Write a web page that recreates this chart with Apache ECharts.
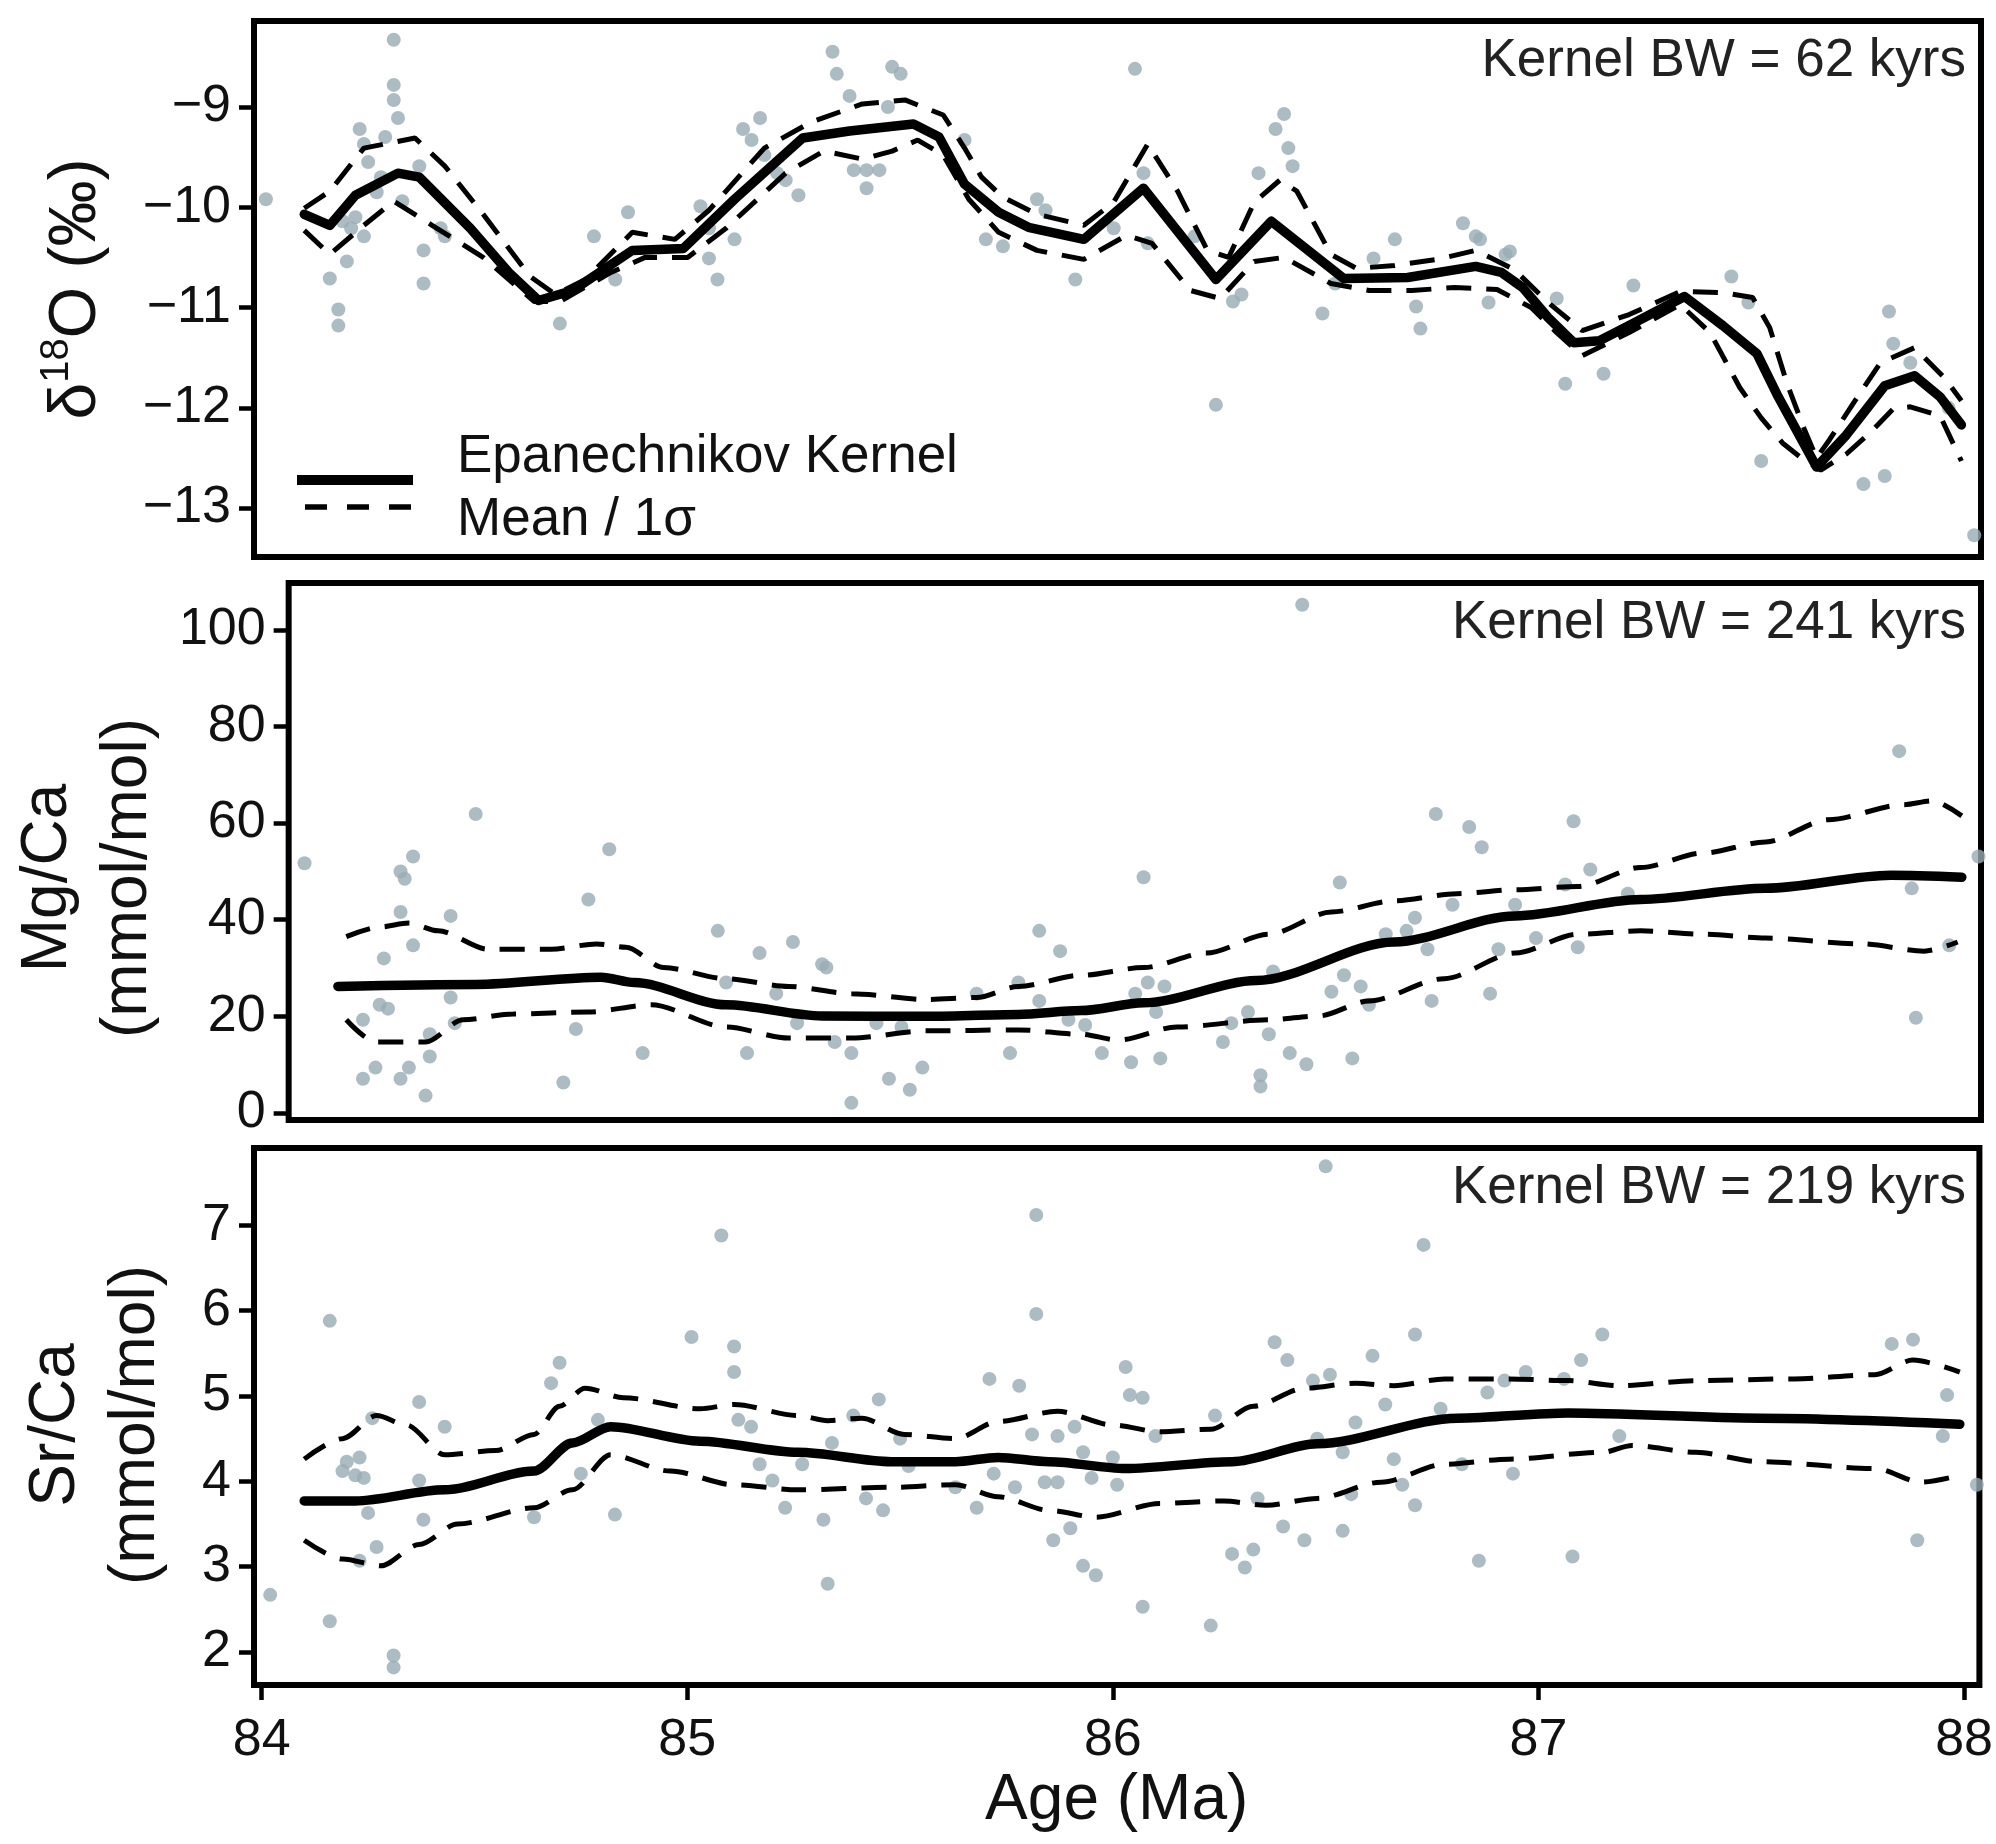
<!DOCTYPE html>
<html>
<head>
<meta charset="utf-8">
<script src="https://cdn.jsdelivr.net/npm/echarts@6/dist/echarts.min.js"></script>
<style>
  html, body { margin: 0; padding: 0; background: #ffffff; }
  #chart { width: 1996px; height: 1844px; }
</style>
</head>
<body>
<div id="chart"></div>
<script>
// ---- tick positions ----
const ageTicks = [84, 85, 86, 87, 88];
const d18oTicks = [-13, -12, -11, -10, -9];
const mgcaTicks = [0, 20, 40, 60, 80, 100];
const srcaTicks = [2, 3, 4, 5, 6, 7];

// ---- kernel bandwidths ----
const bandwidths = ['Kernel BW = 62 kyrs', 'Kernel BW = 241 kyrs', 'Kernel BW = 219 kyrs'];

// ---- δ18O (‰): measurements [age Ma, value] ----
const d18oPoints = [
  [84.01,-9.92],[84.16,-10.71],[84.18,-11.02],[84.18,-11.18],[84.20,-10.54],[84.19,-10.14],[84.21,-10.21],
  [84.22,-10.10],[84.24,-10.29],[84.23,-9.22],[84.24,-9.37],[84.25,-9.55],[84.27,-9.85],[84.28,-9.70],
  [84.29,-9.30],[84.31,-8.93],[84.31,-8.78],[84.31,-8.33],[84.32,-9.11],[84.33,-9.94],[84.37,-9.59],
  [84.38,-10.43],[84.38,-10.76],[84.42,-10.21],[84.43,-10.29],[84.70,-11.16],[84.78,-10.29],[84.83,-10.72],
  [84.86,-10.05],[85.03,-9.99],[85.05,-10.21],[85.05,-10.51],[85.07,-10.72],[85.11,-10.32],[85.13,-9.22],
  [85.15,-9.33],[85.17,-9.11],[85.18,-9.48],[85.21,-9.66],[85.23,-9.73],[85.26,-9.88],[85.34,-8.45],
  [85.35,-8.67],[85.38,-8.89],[85.39,-9.63],[85.42,-9.63],[85.42,-9.81],[85.45,-9.63],[85.47,-9.00],
  [85.48,-8.60],[85.50,-8.67],[85.65,-9.33],[85.70,-10.32],[85.74,-10.39],[85.82,-9.92],[85.84,-10.03],
  [85.91,-10.72],[86.00,-10.21],[86.05,-8.62],[86.07,-9.66],[86.08,-10.36],[86.19,-10.29],[86.24,-11.97],
  [86.28,-10.94],[86.30,-10.87],[86.34,-9.66],[86.38,-9.22],[86.40,-9.07],[86.41,-9.41],[86.42,-9.59],
  [86.49,-11.06],[86.52,-10.76],[86.61,-10.51],[86.66,-10.32],[86.71,-10.99],[86.72,-11.21],[86.82,-10.16],
  [86.85,-10.29],[86.86,-10.32],[86.88,-10.95],[86.92,-10.47],[86.93,-10.44],[87.04,-10.91],[87.06,-11.76],
  [87.15,-11.66],[87.22,-10.78],[87.45,-10.69],[87.49,-10.95],[87.52,-12.53],[87.76,-12.76],[87.81,-12.68],
  [87.82,-11.04],[87.83,-11.36],[87.87,-11.55],[87.96,-12.00],[88.02,-13.27]
];
const d18oKernel = [
  [84.10,-10.07],[84.16,-10.18],[84.22,-9.88],[84.32,-9.66],[84.37,-9.70],[84.49,-10.21],[84.58,-10.65],
  [84.65,-10.93],[84.73,-10.83],[84.87,-10.43],[84.99,-10.41],[85.11,-9.92],[85.27,-9.31],[85.38,-9.24],
  [85.53,-9.17],[85.59,-9.30],[85.65,-9.77],[85.73,-10.05],[85.80,-10.20],[85.93,-10.32],[86.07,-9.81],
  [86.24,-10.72],[86.37,-10.14],[86.54,-10.71],[86.69,-10.70],[86.85,-10.59],[86.91,-10.65],[86.96,-10.80],
  [87.02,-11.10],[87.08,-11.35],[87.14,-11.33],[87.21,-11.18],[87.34,-10.89],[87.43,-11.18],[87.51,-11.46],
  [87.56,-11.89],[87.65,-12.59],[87.72,-12.27],[87.81,-11.78],[87.88,-11.68],[87.94,-11.89],[87.99,-12.17]
];
const d18oUpper = [
  [84.10,-10.01],[84.16,-9.84],[84.24,-9.41],[84.36,-9.31],[84.43,-9.59],[84.52,-10.07],[84.63,-10.69],
  [84.69,-10.87],[84.76,-10.72],[84.87,-10.25],[84.97,-10.32],[85.05,-10.03],[85.18,-9.41],[85.29,-9.15],
  [85.41,-8.97],[85.51,-8.93],[85.60,-9.08],[85.65,-9.41],[85.69,-9.70],[85.74,-9.90],[85.82,-10.07],
  [85.93,-10.18],[86.00,-9.95],[86.08,-9.37],[86.15,-9.84],[86.22,-10.43],[86.27,-10.50],[86.33,-9.95],
  [86.39,-9.73],[86.43,-9.84],[86.51,-10.47],[86.57,-10.61],[86.66,-10.58],[86.76,-10.52],[86.85,-10.43],
  [86.94,-10.62],[87.02,-10.95],[87.10,-11.23],[87.21,-11.07],[87.33,-10.84],[87.43,-10.85],[87.50,-10.90],
  [87.54,-11.20],[87.58,-11.75],[87.62,-12.20],[87.65,-12.50],[87.68,-12.32],[87.74,-11.93],[87.80,-11.55],
  [87.88,-11.40],[87.95,-11.70],[87.99,-11.93]
];
const d18oLower = [
  [84.10,-10.23],[84.16,-10.47],[84.24,-10.18],[84.31,-9.94],[84.40,-10.18],[84.52,-10.50],[84.64,-10.94],
  [84.70,-10.94],[84.82,-10.65],[84.90,-10.50],[85.00,-10.50],[85.09,-10.21],[85.23,-9.66],[85.32,-9.44],
  [85.41,-9.52],[85.48,-9.44],[85.54,-9.33],[85.60,-9.48],[85.66,-9.92],[85.73,-10.25],[85.82,-10.43],
  [85.93,-10.52],[86.03,-10.28],[86.09,-10.36],[86.18,-10.83],[86.25,-10.91],[86.33,-10.54],[86.40,-10.50],
  [86.51,-10.76],[86.60,-10.83],[86.70,-10.83],[86.80,-10.80],[86.90,-10.82],[86.98,-11.00],[87.04,-11.25],
  [87.10,-11.48],[87.21,-11.25],[87.33,-10.97],[87.40,-11.25],[87.47,-11.80],[87.52,-12.10],[87.57,-12.35],
  [87.62,-12.52],[87.66,-12.62],[87.72,-12.46],[87.78,-12.23],[87.83,-12.01],[87.87,-11.99],[87.94,-12.08],
  [87.99,-12.53]
];

// ---- Mg/Ca (mmol/mol) ----
const mgcaPoints = [
  [84.02,51.7],[84.16,19.3],[84.16,7.1],[84.19,9.4],[84.20,22.4],[84.21,32.0],[84.22,21.6],[84.25,41.6],
  [84.25,50.0],[84.26,48.5],[84.27,9.4],[84.28,34.7],[84.28,53.1],[84.25,7.1],[84.31,3.6],[84.32,11.7],
  [84.32,16.3],[84.37,40.8],[84.37,23.9],[84.38,18.6],[84.43,61.9],[84.64,6.3],[84.67,17.4],[84.70,44.2],
  [84.75,54.6],[84.83,12.4],[85.01,37.7],[85.03,27.0],[85.08,12.4],[85.11,33.1],[85.15,24.7],[85.19,35.4],
  [85.20,18.6],[85.26,30.8],[85.27,30.1],[85.29,14.7],[85.33,12.4],[85.33,2.1],[85.39,18.6],[85.42,7.1],
  [85.45,17.8],[85.47,4.8],[85.50,9.4],[85.63,24.7],[85.71,12.4],[85.73,27.0],[85.78,37.7],[85.83,33.5],
  [85.78,23.2],[85.85,19.3],[85.89,18.2],[85.93,12.4],[86.00,10.5],[86.03,48.8],[86.01,24.7],[86.04,27.0],
  [86.06,20.9],[86.07,11.3],[86.08,26.2],[86.22,14.7],[86.24,18.6],[86.28,20.9],[86.31,7.8],[86.31,5.5],
  [86.33,16.3],[86.34,29.3],[86.38,12.4],[86.41,105.2],[86.42,10.1],[86.48,25.1],[86.50,47.7],[86.51,28.5],
  [86.53,11.3],[86.55,26.2],[86.57,22.4],[86.61,37.0],[86.66,37.7],[86.68,40.4],[86.71,33.9],[86.72,23.2],
  [86.73,61.9],[86.77,43.1],[86.81,59.2],[86.84,55.0],[86.86,24.7],[86.88,33.9],[86.92,43.1],[86.97,36.2],
  [87.04,47.3],[87.06,60.4],[87.07,34.3],[87.10,50.4],[87.19,45.4],[87.84,74.9],[87.87,46.5],[87.88,19.7],
  [87.96,34.7],[88.03,53.1]
];
const mgcaKernel = [
  [84.10,26.2],[84.43,26.6],[84.73,28.1],[84.81,27.0],[85.03,22.4],[85.26,20.1],[85.50,20.0],[85.73,20.4],
  [85.88,21.2],[86.03,22.8],[86.30,27.4],[86.63,35.4],[86.92,40.8],[87.22,44.2],[87.52,46.5],[87.82,49.2],
  [87.99,48.8]
];
const mgcaUpper = [
  [84.12,36.5],[84.20,38.5],[84.27,39.3],[84.34,37.7],[84.46,33.9],[84.61,33.9],[84.72,35.0],[84.79,34.3],
  [84.88,30.1],[85.03,27.8],[85.18,26.2],[85.33,24.7],[85.51,23.5],[85.63,23.9],[85.73,26.2],[85.88,28.5],
  [86.03,30.1],[86.18,33.1],[86.33,37.0],[86.48,41.6],[86.63,43.9],[86.78,45.4],[86.92,46.2],[87.07,46.9],
  [87.22,50.8],[87.37,53.8],[87.52,56.1],[87.67,60.7],[87.85,63.8],[87.92,64.6],[87.99,61.5]
];
const mgcaLower = [
  [84.12,19.3],[84.19,14.7],[84.31,14.7],[84.40,19.3],[84.52,20.5],[84.70,20.9],[84.85,22.4],[85.03,17.8],
  [85.18,15.5],[85.33,15.5],[85.51,17.0],[85.73,17.2],[85.88,16.3],[85.97,15.1],[86.11,17.8],[86.33,19.3],
  [86.45,20.1],[86.57,23.2],[86.75,27.8],[86.92,33.1],[87.07,37.0],[87.22,37.7],[87.37,37.0],[87.52,36.2],
  [87.75,35.0],[87.90,33.5],[87.98,35.4]
];

// ---- Sr/Ca (mmol/mol) ----
const srcaPoints = [
  [84.02,2.67],[84.16,5.88],[84.16,2.36],[84.19,4.12],[84.20,4.23],[84.22,4.07],[84.23,4.28],[84.24,4.04],
  [84.25,3.63],[84.23,3.07],[84.27,3.23],[84.26,4.74],[84.31,1.96],[84.31,1.82],[84.37,4.93],[84.37,4.01],
  [84.38,3.55],[84.43,4.64],[84.64,3.58],[84.68,5.15],[84.70,5.39],[84.75,4.09],[84.79,4.72],[84.83,3.61],
  [85.01,5.69],[85.08,6.88],[85.11,5.58],[85.11,5.28],[85.12,4.72],[85.15,4.64],[85.17,4.20],[85.20,4.01],
  [85.23,3.69],[85.27,4.20],[85.32,3.55],[85.33,2.80],[85.34,4.45],[85.39,4.77],[85.42,3.80],[85.46,3.66],
  [85.45,4.96],[85.50,4.50],[85.52,4.18],[85.63,3.93],[85.68,3.69],[85.71,5.20],[85.72,4.09],[85.78,5.12],
  [85.77,3.93],[85.81,4.55],[85.82,7.12],[85.82,5.96],[85.84,3.99],[85.86,3.31],[85.87,4.53],[85.87,3.99],
  [85.90,3.45],[85.91,4.64],[85.93,4.34],[85.93,3.01],[85.95,4.04],[85.96,2.90],[86.00,4.28],[86.01,3.96],
  [86.03,5.34],[86.04,5.01],[86.07,4.98],[86.07,2.53],[86.10,4.53],[86.23,2.31],[86.24,4.77],[86.28,3.15],
  [86.31,2.99],[86.33,3.20],[86.34,3.80],[86.38,5.63],[86.40,3.47],[86.41,5.42],[86.45,3.31],[86.47,5.18],
  [86.48,4.50],[86.50,7.69],[86.51,5.25],[86.54,4.34],[86.54,3.42],[86.56,3.85],[86.57,4.69],[86.61,5.47],
  [86.64,4.90],[86.66,4.26],[86.68,3.96],[86.71,3.72],[86.71,5.72],[86.73,6.77],[86.77,4.85],[86.82,4.20],
  [86.86,3.07],[86.88,5.04],[86.92,5.18],[86.94,4.09],[86.97,5.28],[87.06,5.20],[87.08,3.12],[87.10,5.42],
  [87.15,5.72],[87.19,4.53],[87.83,5.61],[87.88,5.66],[87.89,3.31],[87.95,4.53],[87.96,5.01],[88.03,3.96]
];
const srcaKernel = [
  [84.10,3.77],[84.22,3.77],[84.43,3.90],[84.64,4.12],[84.73,4.45],[84.82,4.64],[85.03,4.47],[85.26,4.34],
  [85.48,4.23],[85.63,4.23],[85.73,4.28],[85.85,4.23],[86.03,4.15],[86.28,4.23],[86.48,4.44],[86.81,4.74],
  [87.07,4.80],[87.52,4.74],[87.99,4.67]
];
const srcaUpper = [
  [84.10,4.26],[84.19,4.50],[84.27,4.77],[84.34,4.66],[84.43,4.31],[84.55,4.36],[84.64,4.55],[84.70,4.88],
  [84.76,5.09],[84.85,4.98],[85.03,4.85],[85.11,4.90],[85.26,4.77],[85.33,4.71],[85.41,4.74],[85.51,4.55],
  [85.63,4.50],[85.73,4.70],[85.87,4.82],[86.00,4.66],[86.11,4.58],[86.23,4.61],[86.33,4.88],[86.45,5.09],
  [86.57,5.15],[86.66,5.12],[86.78,5.20],[86.93,5.20],[87.07,5.18],[87.19,5.12],[87.37,5.18],[87.60,5.20],
  [87.79,5.25],[87.88,5.42],[87.99,5.28]
];
const srcaLower = [
  [84.10,3.31],[84.19,3.09],[84.28,3.01],[84.37,3.26],[84.46,3.50],[84.64,3.69],[84.73,3.90],[84.82,4.31],
  [84.96,4.12],[85.11,3.96],[85.26,3.90],[85.48,3.93],[85.63,3.96],[85.73,3.82],[85.85,3.66],[85.96,3.58],
  [86.11,3.74],[86.26,3.77],[86.36,3.72],[86.48,3.80],[86.63,3.99],[86.78,4.20],[86.93,4.26],[87.15,4.34],
  [87.22,4.42],[87.37,4.34],[87.52,4.23],[87.79,4.15],[87.90,3.99],[87.99,4.07]
];

// ---- drawing ----
const FONT = '"Liberation Sans", Arial, Helvetica, sans-serif';
const INK = '#111111';
const DOT = '#98abb4';

const panels = [
  { top: 21,   height: 536, min: -13.487, max: -8.143, ticks: d18oTicks,
    name: '{a|δ}{s|18}{a|O (‰)}', nameGap: 137, pad: [0, 0, 0, 0] },
  { top: 583,  height: 537, min: -1.45, max: 109.7, ticks: mgcaTicks,
    name: 'Mg/Ca\n(mmol/mol)', nameGap: 100, pad: [0, 53, 0, 0] },
  { top: 1148, height: 537, min: 1.614, max: 7.905, ticks: srcaTicks,
    name: 'Sr/Ca\n(mmol/mol)', nameGap: 78, pad: [0, 17, 0, 0] }
];

const grids = panels.map(p => ({
  left: 254, right: 15, top: p.top, height: p.height,
  show: true, borderColor: '#000', borderWidth: 6, backgroundColor: 'rgba(0,0,0,0)'
}));

const xAxes = panels.map((p, i) => ({
  type: 'value', gridIndex: i, min: 83.982, max: 88.036,
  show: i === 2,
  axisLine: { show: false },
  splitLine: { show: false },
  axisTick: { show: true, customValues: ageTicks, length: 15, lineStyle: { color: '#000', width: 4.5 } },
  axisLabel: { show: true, customValues: ageTicks, margin: 30, fontSize: 52, fontFamily: FONT, color: INK },
  name: i === 2 ? 'Age (Ma)' : '',
  nameLocation: 'middle', nameGap: 84,
  nameTextStyle: { fontSize: 64, fontFamily: FONT, color: INK }
}));

const minus = v => String(v).replace('-', '\u2212');

const yAxes = panels.map((p, i) => ({
  type: 'value', gridIndex: i, min: p.min, max: p.max,
  axisLine: { show: false },
  splitLine: { show: false },
  axisTick: { show: true, customValues: p.ticks, length: 15, lineStyle: { color: '#000', width: 4.5 } },
  axisLabel: { show: true, customValues: p.ticks, margin: 23, fontSize: 52, fontFamily: FONT, color: INK,
               formatter: minus },
  name: p.name, nameLocation: 'middle', nameRotate: 90, nameGap: p.nameGap,
  nameTextStyle: {
    fontSize: 64, fontFamily: FONT, color: INK, lineHeight: 80, padding: p.pad, align: 'center',
    rich: {
      a: { fontSize: 66, fontFamily: FONT, color: INK },
      s: { fontSize: 40, fontFamily: FONT, color: INK, verticalAlign: 'top' }
    }
  }
}));

function scatter(i, data) {
  return { type: 'scatter', xAxisIndex: i, yAxisIndex: i, data, symbolSize: 14,
           itemStyle: { color: DOT }, z: 1, silent: true };
}
function line(i, data, dashed) {
  return { type: 'line', xAxisIndex: i, yAxisIndex: i, data, showSymbol: false, symbol: 'none',
           smooth: i === 0 ? false : 0.3, smoothMonotone: 'x', clip: true, z: dashed ? 2 : 3, silent: true,
           lineStyle: dashed ? { color: '#000', width: 5, type: [25, 15] }
                             : { color: '#000', width: 9.5, cap: 'round', join: 'round' } };
}

const series = [
  scatter(0, d18oPoints), line(0, d18oLower, true), line(0, d18oUpper, true), line(0, d18oKernel, false),
  scatter(1, mgcaPoints), line(1, mgcaLower, true), line(1, mgcaUpper, true), line(1, mgcaKernel, false),
  scatter(2, srcaPoints), line(2, srcaLower, true), line(2, srcaUpper, true), line(2, srcaKernel, false)
];

// bandwidth labels, top-right corner of each panel
const bwText = bandwidths.map((t, i) => ({
  type: 'text', x: 1966, y: panels[i].top + 40,
  style: { text: t, fill: '#222', font: '53px ' + FONT, align: 'right', verticalAlign: 'middle' }, z: 10
}));

// key for the line styles, inside the top panel
const legendKey = [
  { type: 'line', shape: { x1: 297, y1: 480, x2: 413, y2: 480 },
    style: { stroke: '#000', lineWidth: 10 }, z: 10 },
  { type: 'line', shape: { x1: 305, y1: 507, x2: 413, y2: 507 },
    style: { stroke: '#000', lineWidth: 5.5, lineDash: [22, 20] }, z: 10 },
  { type: 'text', x: 457, y: 457,
    style: { text: 'Epanechnikov Kernel', fill: INK, font: '53px ' + FONT, align: 'left', verticalAlign: 'middle' }, z: 10 },
  { type: 'text', x: 457, y: 520,
    style: { text: 'Mean / 1σ', fill: INK, font: '53px ' + FONT, align: 'left', verticalAlign: 'middle' }, z: 10 }
];

const chart = echarts.init(document.getElementById('chart'), null, { renderer: 'canvas' });
chart.setOption({
  backgroundColor: '#ffffff',
  animation: false,
  grid: grids,
  xAxis: xAxes,
  yAxis: yAxes,
  series,
  graphic: bwText.concat(legendKey)
});
</script>
</body>
</html>
